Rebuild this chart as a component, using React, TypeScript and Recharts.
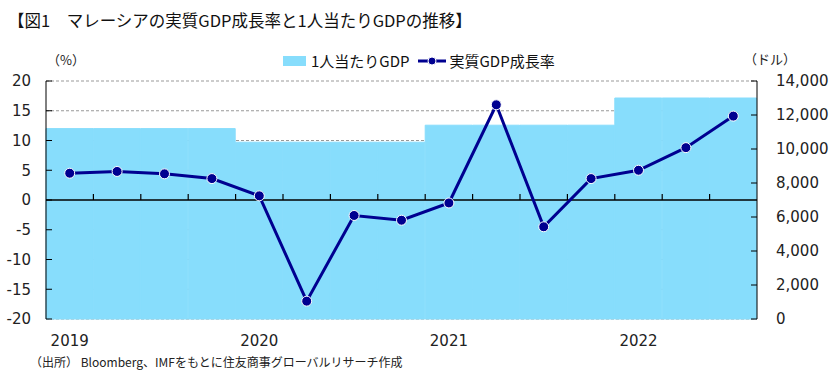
import {
  ComposedChart,
  Bar,
  Line,
  XAxis,
  YAxis,
  CartesianGrid,
  ReferenceLine,
} from "recharts";

const quarters = [
  "2019Q1", "2019Q2", "2019Q3", "2019Q4",
  "2020Q1", "2020Q2", "2020Q3", "2020Q4",
  "2021Q1", "2021Q2", "2021Q3", "2021Q4",
  "2022Q1", "2022Q2", "2022Q3",
];
const growth = [4.5, 4.8, 4.4, 3.6, 0.7, -17.0, -2.6, -3.4, -0.5, 16.0, -4.5, 3.6, 5.0, 8.8, 14.1];
const years = ["2019", "2020", "2021", "2022"];
const perCapita = [11200, 10400, 11400, 13000];
const leftTicks = [-20, -15, -10, -5, 0, 5, 10, 15, 20];
const rightTicks = [0, 2000, 4000, 6000, 8000, 10000, 12000, 14000];

const data = quarters.map((q, i) => ({
  q,
  growth: growth[i],
  gdp: perCapita[years.indexOf(q.slice(0, 4))],
}));

const NAVY = "#000090";
const SKY = "#87DDFC";
const JP = "'Noto Sans CJK JP', sans-serif";
const NUM = "'DejaVu Sans', sans-serif";

const YearTick = (props: any) => {
  const { x, y, payload } = props;
  const q: string = payload.value;
  if (!q.endsWith("Q1")) return null;
  return (
    <text x={x} y={y + 19} textAnchor="middle" fontSize={15} fontFamily={NUM} fill="#222">
      {q.slice(0, 4)}
    </text>
  );
};

const Dot = (props: any) => {
  const { cx, cy, index } = props;
  return <circle key={index} cx={cx} cy={cy} r={5} fill={NAVY} stroke="#fff" strokeWidth={1} />;
};

export default function App() {
  return (
    <div style={{ position: "absolute", left: 0, top: 0, width: 836, height: 373, background: "#fff" }}>
      <div style={{ position: "absolute", left: 8, top: 8, fontFamily: JP, fontSize: 16.5, fontWeight: 400, color: "#111", whiteSpace: "nowrap" }}>
        【図1　マレーシアの実質GDP成長率と1人当たりGDPの推移】
      </div>
      <div style={{ position: "absolute", left: 47, top: 50, fontFamily: JP, fontSize: 13, color: "#222" }}>（%）</div>
      <div style={{ position: "absolute", left: 744, top: 49, fontFamily: JP, fontSize: 13, color: "#222" }}>（ドル）</div>
      <div style={{ position: "absolute", left: 283, top: 50, display: "flex", alignItems: "center", fontFamily: JP, fontSize: 15, color: "#111", whiteSpace: "nowrap" }}>
        <span style={{ display: "inline-block", width: 23, height: 10, background: SKY, marginRight: 5 }} />
        <span>1人当たりGDP</span>
        <svg width={30} height={12} style={{ marginLeft: 8, marginRight: 2 }}>
          <line x1={1} y1={6} x2={29} y2={6} stroke={NAVY} strokeWidth={3} />
          <circle cx={15} cy={6} r={4} fill={NAVY} stroke="#fff" strokeWidth={1} />
        </svg>
        <span>実質GDP成長率</span>
      </div>
      <div style={{ position: "absolute", left: 30, top: 353, fontFamily: JP, fontSize: 12, color: "#222", whiteSpace: "nowrap" }}>
        （出所） Bloomberg、IMFをもとに住友商事グローバルリサーチ作成
      </div>
      <ComposedChart
        width={836}
        height={373}
        data={data}
        margin={{ top: 81, right: 0, bottom: 24, left: 0 }}
        barCategoryGap={0}
        barGap={0}
      >
        <CartesianGrid yAxisId="left" vertical={false} stroke="#999" strokeDasharray="3 2" />
        <XAxis
          dataKey="q"
          height={30}
          axisLine={false}
          tickLine={false}
          interval={0}
          tick={<YearTick />}
        />
        <YAxis
          yAxisId="left"
          orientation="left"
          width={46}
          domain={[-20, 20]}
          ticks={leftTicks}
          interval={0}
          tickSize={-6}
          tickMargin={21}
          axisLine={{ stroke: "#000" }}
          tickLine={{ stroke: "#000" }}
          tick={{ fontSize: 15, fontFamily: NUM, fill: "#222" }}
        />
        <YAxis
          yAxisId="right"
          orientation="right"
          width={79}
          domain={[0, 14000]}
          ticks={rightTicks}
          interval={0}
          tickSize={-6}
          tickMargin={25}
          axisLine={{ stroke: "#000" }}
          tickLine={{ stroke: "#000" }}
          tickFormatter={(v: number) => v.toLocaleString("en-US")}
          tick={{ fontSize: 15, fontFamily: NUM, fill: "#222", textAnchor: "start" }}
        />
        <Bar yAxisId="right" dataKey="gdp" fill={SKY} stroke={SKY} strokeWidth={1} isAnimationActive={false} />
        <ReferenceLine yAxisId="left" y={0} stroke="#000" strokeWidth={1.5} />
        {quarters.slice(1).map((q) => (
          <ReferenceLine
            key={q}
            yAxisId="left"
            segment={[{ x: q, y: 0 }, { x: q, y: 1 }]}
            position="start"
            stroke="#000"
            strokeWidth={1.2}
          />
        ))}
        <Line
          yAxisId="left"
          dataKey="growth"
          type="linear"
          stroke={NAVY}
          strokeWidth={3}
          dot={<Dot />}
          isAnimationActive={false}
        />
      </ComposedChart>
    </div>
  );
}
